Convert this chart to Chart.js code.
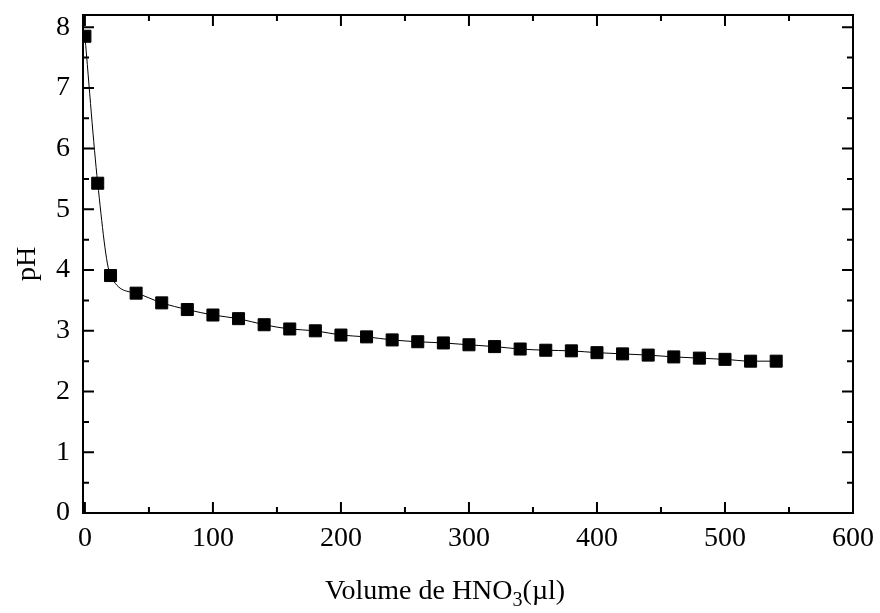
<!DOCTYPE html>
<html>
<head>
<meta charset="utf-8">
<script src="https://cdn.jsdelivr.net/npm/chart.js@4.4.0/dist/chart.umd.min.js"></script>
<style>
    html, body { margin: 0; padding: 0; background: #fff; }
</style>
</head>
<body>
<canvas id="ph-chart" width="880" height="613"></canvas>
<script>
// Titrage : pH en fonction du volume de HNO3 ajouté
const volumes = [0, 10, 20, 40, 60, 80, 100, 120, 140, 160, 180, 200, 220, 240, 260,
    280, 300, 320, 340, 360, 380, 400, 420, 440, 460, 480, 500, 520, 540];
const phValues = [7.85, 5.43, 3.91, 3.62, 3.46, 3.35, 3.26, 3.20, 3.10, 3.03, 3.00, 2.93, 2.90, 2.85, 2.82,
    2.80, 2.77, 2.74, 2.70, 2.68, 2.67, 2.64, 2.62, 2.60, 2.57, 2.55, 2.53, 2.50, 2.50];
const xTicks = [0, 100, 200, 300, 400, 500, 600];
const yTicks = [0, 1, 2, 3, 4, 5, 6, 7, 8];

const SERIF = '"Liberation Serif", "Times New Roman", serif';

// cadre + graduations vers l'intérieur sur les quatre côtés
const framePlugin = {
    id: 'frame',
    afterDraw(chart) {
        const { ctx, chartArea: a, scales } = chart;
        const x = scales.x, y = scales.y;
        const major = 11, minor = 6;
        ctx.save();
        ctx.strokeStyle = '#000';
        ctx.lineWidth = 2;
        ctx.strokeRect(a.left, a.top, a.right - a.left, a.bottom - a.top);

        const xs = [], ys = [];
        xTicks.forEach((v, i) => {
            xs.push([v, major]);
            if (i < xTicks.length - 1) xs.push([(v + xTicks[i + 1]) / 2, minor]);
        });
        yTicks.forEach((v, i) => {
            ys.push([v, major]);
            if (i < yTicks.length - 1) ys.push([(v + yTicks[i + 1]) / 2, minor]);
        });
        ys.push([yTicks[yTicks.length - 1] + 0.5, minor]);

        ctx.beginPath();
        xs.forEach(([v, len]) => {
            if (v < x.min || v > x.max) return;
            const px = x.getPixelForValue(v);
            ctx.moveTo(px, a.bottom); ctx.lineTo(px, a.bottom - len);
            ctx.moveTo(px, a.top); ctx.lineTo(px, a.top + len);
        });
        ys.forEach(([v, len]) => {
            if (v < y.min || v > y.max) return;
            const py = y.getPixelForValue(v);
            ctx.moveTo(a.left, py); ctx.lineTo(a.left + len, py);
            ctx.moveTo(a.right, py); ctx.lineTo(a.right - len, py);
        });
        ctx.stroke();

        // titre de l'axe x avec indice
        ctx.fillStyle = '#000';
        ctx.textBaseline = 'alphabetic';
        const big = '28px ' + SERIF, small = '20px ' + SERIF;
        const parts = [['Volume de HNO', big, 0], ['3', small, 7], ['(\u00b5l)', big, 0]];
        let total = 0;
        parts.forEach(p => { ctx.font = p[1]; total += ctx.measureText(p[0]).width; });
        let cx = (a.left + a.right) / 2 - 23 - total / 2;
        const base = a.bottom + 86;
        parts.forEach(p => {
            ctx.font = p[1];
            ctx.fillText(p[0], cx, base + p[2]);
            cx += ctx.measureText(p[0]).width;
        });
        ctx.restore();
    }
};

new Chart(document.getElementById('ph-chart'), {
    type: 'scatter',
    data: {
        datasets: [{
            data: volumes.map((v, i) => ({ x: v, y: phValues[i] })),
            showLine: true,
            borderColor: '#000',
            borderWidth: 1,
            cubicInterpolationMode: 'monotone',
            pointStyle: 'rect',
            pointRadius: 8.5,
            pointBackgroundColor: '#000',
            pointBorderColor: '#000',
            pointBorderWidth: 1
        }]
    },
    options: {
        responsive: false,
        animation: false,
        layout: { padding: { top: 15, right: 27, left: 0, bottom: 0 } },
        plugins: {
            legend: { display: false },
            tooltip: { enabled: false }
        },
        scales: {
            x: {
                type: 'linear',
                min: -1.5,
                max: 600,
                grid: { display: false, drawTicks: false },
                border: { display: false },
                afterBuildTicks: s => { s.ticks = xTicks.map(v => ({ value: v })); },
                afterFit: s => { s.height = 100; s.paddingLeft = 0; s.paddingRight = 0; },
                ticks: {
                    color: '#000',
                    padding: 9,
                    maxRotation: 0,
                    font: { family: SERIF, size: 28 }
                }
            },
            y: {
                min: 0,
                max: 8.2,
                grid: { display: false, drawTicks: false },
                border: { display: false },
                afterBuildTicks: s => { s.ticks = yTicks.map(v => ({ value: v })); },
                afterFit: s => { s.width = 83; s.paddingTop = 0; s.paddingBottom = 0; },
                ticks: {
                    color: '#000',
                    padding: 13,
                    font: { family: SERIF, size: 28 }
                },
                title: {
                    display: true,
                    text: 'pH',
                    color: '#000',
                    padding: { top: 11 },
                    font: { family: SERIF, size: 28 }
                }
            }
        }
    },
    plugins: [framePlugin]
});
</script>
</body>
</html>
